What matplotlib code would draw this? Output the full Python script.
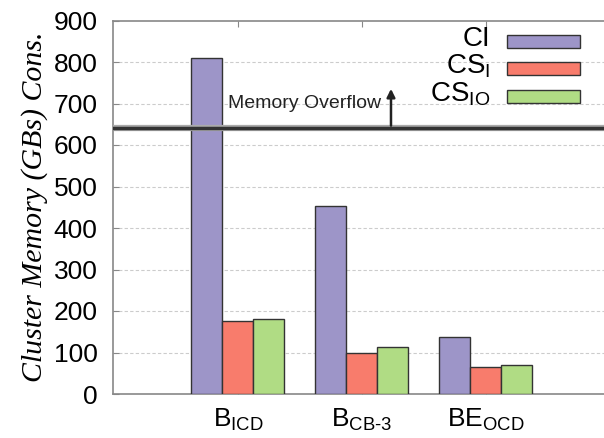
import matplotlib
matplotlib.use("Agg")
import matplotlib.pyplot as plt
from matplotlib.patches import Rectangle
import numpy as np

categories = [r"B$_{\mathregular{ICD}}$", r"B$_{\mathregular{CB\text{-}3}}$", r"BE$_{\mathregular{OCD}}$"]
series_names = ["CI", r"CS$_{\mathregular{I}}$", r"CS$_{\mathregular{IO}}$"]
ci = [810, 452, 138]
cs_i = [176, 99, 65]
cs_io = [181, 114, 70]
overflow = 640
yticks = [0, 100, 200, 300, 400, 500, 600, 700, 800, 900]

colors = ["#9d95c8", "#f87c6c", "#b0dc84"]

plt.rcParams['font.family'] = ['Liberation Sans', 'DejaVu Sans']
plt.rcParams['mathtext.fontset'] = 'custom'
plt.rcParams['mathtext.rm'] = 'Liberation Sans'

fig = plt.figure(figsize=(6.04, 4.38), dpi=100)
ax = fig.add_axes([113 / 604, 1 - 394 / 438, 1 - 113 / 604, (394 - 20.5) / 438])

x = np.arange(len(categories))
w = 0.25
for i, (vals, c) in enumerate(zip([ci, cs_i, cs_io], colors)):
    ax.bar(x + (i - 1) * w, vals, w, color=c, edgecolor="#333333", linewidth=1.0, zorder=3)

ax.set_xlim(-1.008, 2.952)
ax.set_ylim(0, 900)
ax.set_yticks(yticks)
ax.set_xticks(x)
ax.set_xticklabels(categories, fontsize=19)
ax.tick_params(axis='y', labelsize=19, direction='in', length=4, color='#888888', pad=11)
ax.tick_params(axis='x', direction='in', length=4, color='#888888', pad=9, top=True)

for yv in yticks[1:-1]:
    ax.axhline(yv, color='#cccccc', lw=0.8, ls=(0, (3, 2)), zorder=1)

ax.axhline(overflow, color='#aaaaaa', lw=4.5, zorder=4)
ax.axhline(overflow, color='#333333', lw=2.5, zorder=5)
ax.annotate("", xy=(1.234, 742), xytext=(1.234, overflow),
            arrowprops=dict(arrowstyle='-|>', color='#222222', lw=1.8, mutation_scale=12), zorder=6)
ax.text(1.155, 701, "Memory Overflow", ha='right', va='center', fontsize=14, color='#222222', zorder=6)

for s in ['left', 'bottom', 'top']:
    ax.spines[s].set_color('#888888')
    ax.spines[s].set_linewidth(1.2)
ax.spines['right'].set_visible(False)

ax.set_ylabel("Cluster Memory (GBs) Cons.", family='Liberation Serif', style='italic', fontsize=21.5, labelpad=4)

# legend (manual, right-aligned labels)
leg_y = [41, 68, 96]
for name, c, yp in zip(series_names, colors, leg_y):
    yf = 1 - yp / 438
    fig.text(490 / 604, 1 - (yp + 5.5) / 438, name, ha='right', va='baseline', fontsize=20)
    fig.add_artist(Rectangle((507 / 604, yf - 6.5 / 438), 73 / 604, 13 / 438,
                             transform=fig.transFigure, facecolor=c, edgecolor='#333333', lw=1.0))

fig.savefig("out.png", dpi=100)
